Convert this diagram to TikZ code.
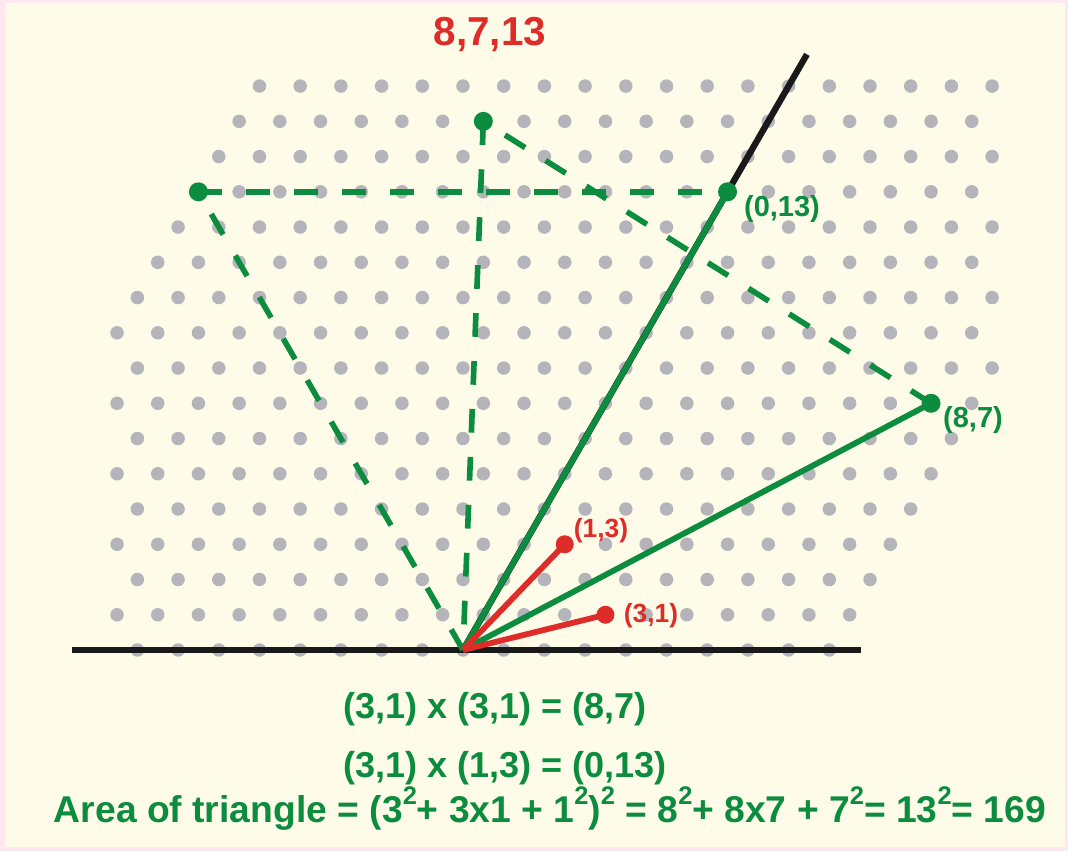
\documentclass[tikz,border=0pt]{standalone}
\usepackage{fontspec}
\setmainfont{Liberation Sans}
\usepackage{tikz}
\usetikzlibrary{positioning,calc}
\definecolor{eisgreen}{RGB}{12,140,62}
\definecolor{eisred}{RGB}{222,45,40}
\definecolor{dotgray}{RGB}{180,180,186}
\definecolor{bgyellow}{RGB}{254,252,232}
\definecolor{bgpink}{RGB}{252,232,238}
\newcommand{\sqr}{\raisebox{0.48em}{\fontsize{14.5}{15}\selectfont 2}}

\begin{document}
\begin{tikzpicture}[
  line width=3.2pt,
  every node/.style={font=\bfseries},
  latdot/.style={fill=dotgray},
  axisline/.style={black!90,line width=3.6pt},
  gvec/.style={eisgreen,line width=3.3pt},
  rvec/.style={eisred,line width=3.3pt},
  dline/.style={eisgreen,line width=3.2pt,dash pattern=on 13.5pt off 13.8pt},
  glabel/.style={text=eisgreen,anchor=base,font=\fontsize{16.5}{19}\selectfont\bfseries},
  rlabel/.style={text=eisred,anchor=base,font=\fontsize{15}{18}\selectfont\bfseries},
  eqtext/.style={text=eisgreen,font=\fontsize{20.5}{24}\selectfont\bfseries}
]

% 背景
\fill[bgpink] (-9.26,-4.02) rectangle (12.10,13.00);
\fill[bgyellow] (-9.16,-3.94) rectangle (12.04,12.94);
\useasboundingbox (-9.26,-4.02) rectangle (12.10,13.00);

% 三角格子 (a,b) -> a*e1 + b*e2
\begin{scope}[x={(0.814cm,0cm)},y={(0.407cm,0.7049cm)}]
  \foreach \b in {0,...,16}{
    \foreach \a in {-13,...,9}{
      \pgfmathtruncatemacro{\inside}{and(\a+\b/2>-8.6,\a+\b/2<13.1)}
      \ifnum\inside=1
        \fill[latdot] (\a,\b) circle (0.135cm);
      \fi
    }
  }

  \coordinate (O) at (0,0);
  \coordinate (xl) at (-9.61,0);
  \coordinate (xr) at (9.78,0);
  \coordinate (ray) at (0,16.9);
  \coordinate (P31) at (3,1);
  \coordinate (P13) at (1,3);
  \coordinate (P87) at (8,7);
  \coordinate (P013) at (0,13);
  \coordinate (Q1) at (-13,13);
  \coordinate (Q2) at (-7,15);
\end{scope}

% 軸
\draw[axisline] (xl) -- (xr);
\draw[axisline] (O) -- (ray);

% 正三角形（破線）
\draw[dline] (Q1) -- (P013);
\draw[dline] (O) -- (Q1);
\draw[dline] (Q2) -- (O);
\draw[dline] (P87) -- (Q2);

% ベクトル
\draw[gvec] (O) -- (P013);
\draw[gvec] (O) -- (P87);
\draw[rvec] (O) -- (P13);
\draw[rvec] (O) -- (P31);

\foreach \p in {P013,P87,Q1,Q2}
  \fill[eisgreen] (\p) circle (0.19cm);
\foreach \p in {P13,P31}
  \fill[eisred] (\p) circle (0.18cm);

% ラベル
\node[text=eisred,anchor=base,font=\fontsize{23}{27}\selectfont\bfseries]
  (title) at (0.54,12.08) {8,7,13};
\node[glabel] (l013) at (6.38,8.68) {(0,13)};
\node[glabel] (l87) at (10.2,4.46) {(8,7)};
\node[rlabel] (l13) at (2.76,2.26) {(1,3)};
\node[rlabel] (l31) at (3.76,0.56) {(3,1)};

% 式
\node[eqtext,anchor=base west] (eq1) at (-2.56,-1.36) {(3,1) x (3,1) = (8,7)};
\node[eqtext,anchor=base west] (eq2) at (-2.56,-2.54) {(3,1) x (1,3) = (0,13)};
\node[eqtext,anchor=base,font=\fontsize{21.2}{25}\selectfont\bfseries] (eq3) at (1.74,-3.44)
  {Area of triangle = (3\sqr+ 3x1 + 1\sqr)\sqr{} = 8\sqr+ 8x7 + 7\sqr= 13\sqr= 169};

\end{tikzpicture}
\end{document}
